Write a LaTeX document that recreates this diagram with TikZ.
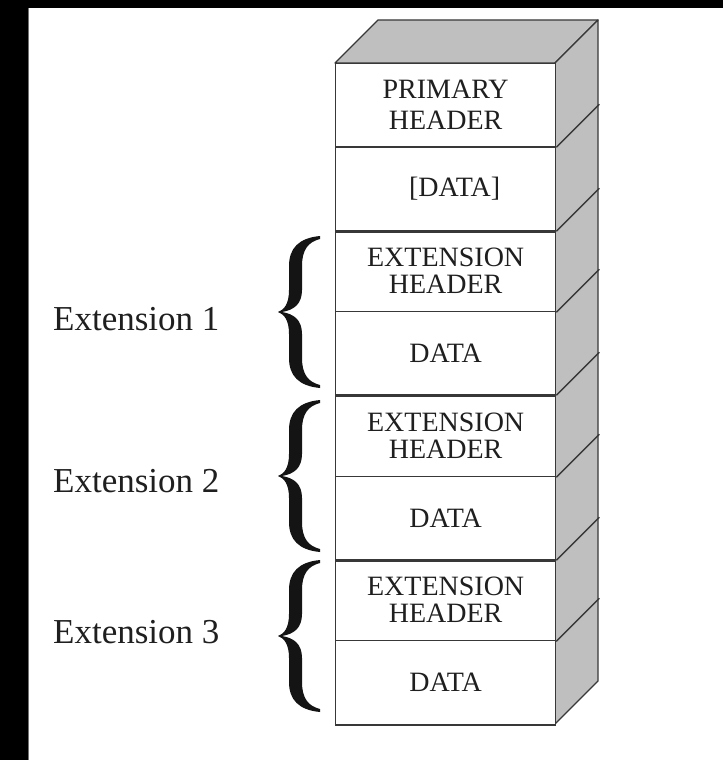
\documentclass[tikz,border=0pt]{standalone}
\usepackage{fontspec}
\setmainfont{Liberation Serif}
\begin{document}
\begin{tikzpicture}[x=1pt,y=-1pt,
  linecol/.style={draw=black!78},
  cell/.style={linecol, rectangle, line width=1.3pt, fill=white, inner sep=0pt,
    minimum width=220pt, anchor=north west, align=center, text=black!88,
    font=\fontsize{28}{27}\selectfont},
  shade/.style={linecol, fill=black!25, line width=1.3pt, line join=round},
  sep/.style={linecol, line width=2.4pt},
  diag/.style={linecol, line width=1.3pt},
  lab/.style={anchor=base west, inner sep=0pt, text=black!88, font=\fontsize{35}{38}\selectfont},
  cbrace/.pic={\fill[black!92]
    (42,76) .. controls (21,74) and (11,64) .. (11,46) -- (11,22)
    .. controls (11,8) and (6,2) .. (0,0)
    .. controls (6,-2) and (11,-8) .. (11,-22) -- (11,-46)
    .. controls (11,-64) and (21,-74) .. (42,-76)
    -- (42,-73) .. controls (30,-70) and (24,-62) .. (24,-46) -- (24,-22)
    .. controls (24,-8) and (16,-2) .. (4,0)
    .. controls (16,2) and (24,8) .. (24,22) -- (24,46)
    .. controls (24,62) and (30,70) .. (42,73) -- cycle;}
]
\useasboundingbox (0,0) rectangle (723,760);
\fill[black] (0,0) rectangle (723,760);
\fill[white] (28,8) rectangle (723,760);
\draw[black!55, line width=0.8pt] (28.4,8) -- (28.4,760);

% top and side faces
\coordinate (ftl) at (335,63);
\coordinate (ftr) at (555,63);
\coordinate (fbr) at (555,724);
\draw[shade] (ftl) -- ++(43,-43) -- ++(220,0) -- (ftr) -- cycle;
\draw[shade] (ftr) -- ++(43,-43) -- ++(0,661) -- (fbr) -- cycle;

% cells
\node[cell, minimum height=83pt] (ph) at (335,63) {PRIMARY\\[4pt]HEADER};
\node[cell, minimum height=84pt] (d0) at (335,146) {\hspace*{18pt}[DATA]};
\node[cell, minimum height=81pt] (h1) at (335,230) {EXTENSION\\HEADER};
\node[cell, minimum height=83pt] (d1) at (335,311) {DATA};
\node[cell, minimum height=82pt] (h2) at (335,394) {EXTENSION\\HEADER};
\node[cell, minimum height=83pt] (d2) at (335,476) {DATA};
\node[cell, minimum height=81pt] (h3) at (335,559) {EXTENSION\\HEADER};
\node[cell, minimum height=84pt] (d3) at (335,640) {DATA};

% section separators
\draw[sep, line width=2pt] (ph.south west) -- (ph.south east);
\draw[sep] (d0.south west) -- (d0.south east);
\draw[sep] (d1.south west) -- (d1.south east);
\draw[sep] (d2.south west) -- (d2.south east);
\draw[sep, line width=2pt] (d3.south west) -- (d3.south east);

% diagonals on the side face
\foreach \n in {ph,d0,h1,d1,h2,d2,h3}
  \draw[diag] (\n.south east) -- ++(43,-43);

% braces
\pic at (278,312) {cbrace};
\pic at (278,476) {cbrace};
\pic at (278,636) {cbrace};

% labels
\node[lab] (e1) at (53,330) {Extension 1};
\node[lab] (e2) at (53,492) {Extension 2};
\node[lab] (e3) at (53,643) {Extension 3};
\end{tikzpicture}
\end{document}
